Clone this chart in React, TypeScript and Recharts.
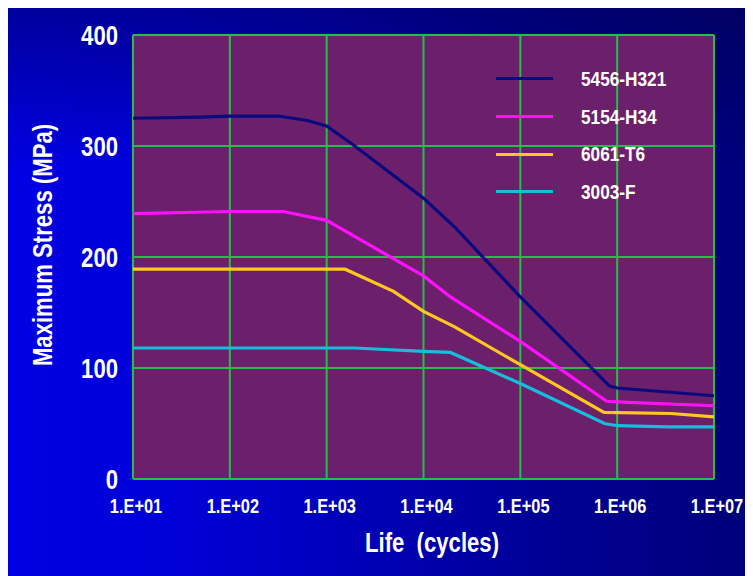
import { LineChart, Line, XAxis, YAxis, CartesianGrid, Label } from "recharts";

// fatigue (S-N) curves
const alloys = ["5456-H321", "5154-H34", "6061-T6", "3003-F"];
const colors = ["#0a0a80", "#ff10ff", "#ffc81e", "#14bedc"];

const cycles5456 = [10, 50, 100, 316, 630, 1000, 1950, 10000, 21000, 100000, 830000, 1000000, 10000000];
const stress5456 = [325, 326, 327, 327, 323, 318, 300, 253, 227, 164, 84, 82, 75];

const cycles5154 = [10, 100, 355, 1000, 10000, 19000, 100000, 780000, 1300000, 10000000];
const stress5154 = [239, 241, 241, 233, 183, 164, 124, 70, 69, 66];

const cycles6061 = [10, 1550, 4900, 10000, 21000, 100000, 730000, 3600000, 10000000];
const stress6061 = [189, 189, 169, 151, 137, 103, 60, 59, 56];

const cycles3003 = [10, 1950, 10000, 19000, 100000, 740000, 1000000, 3400000, 10000000];
const stress3003 = [118, 118, 115, 114, 86, 50, 48, 47, 47];

const xTicks = [10, 100, 1000, 10000, 100000, 1000000, 10000000];
const yTicks = [0, 100, 200, 300, 400];

const toPoints = (xs: number[], ys: number[]) => xs.map((x, i) => ({ x, y: ys[i] }));

const series = [
  toPoints(cycles5456, stress5456),
  toPoints(cycles5154, stress5154),
  toPoints(cycles6061, stress6061),
  toPoints(cycles3003, stress3003),
];

const font = "'Liberation Sans', Arial, sans-serif";
const NARROW = 0.82; // the original uses a narrow bold face

const fmtCycles = (v: number) => {
  const e = Math.round(Math.log10(v));
  return "1.E+" + (e < 10 ? "0" + e : String(e));
};

// squeeze text horizontally around its anchor point
const squeeze = (x: number, y: number) => `translate(${x},${y}) scale(${NARROW},1) translate(${-x},${-y})`;

const XTick = ({ x, y, payload }: any) => (
  <text
    x={x + 3}
    y={y}
    dy="0.72em"
    textAnchor="middle"
    fill="#fff"
    fontSize={20}
    fontWeight="bold"
    fontFamily={font}
    transform={squeeze(x + 3, y)}
  >
    {fmtCycles(payload.value)}
  </text>
);

const YTick = ({ x, y, payload }: any) => (
  <text
    x={x}
    y={y}
    dy="0.36em"
    textAnchor="end"
    fill="#fff"
    fontSize={27}
    fontWeight="bold"
    fontFamily={font}
    transform={squeeze(x, y)}
  >
    {payload.value}
  </text>
);

export default function App() {
  return (
    <div
      style={{
        position: "relative",
        marginTop: -4,
        width: 745,
        height: 572,
        background:
          "linear-gradient(to bottom, rgba(0,0,70,0.45) 0%, rgba(0,0,70,0) 28%), " +
          "linear-gradient(to right, #0000e2 0%, #0000d8 22%, #0000b4 50%, #000092 75%, #00007a 100%)",
      }}
    >
      <LineChart width={745} height={572} margin={{ top: 31, right: 39, bottom: 40, left: 0 }}>
        <CartesianGrid stroke="#22c046" strokeWidth={2} fill="#6c1f6a" fillOpacity={1} />
        <XAxis
          type="number"
          dataKey="x"
          scale="log"
          domain={[10, 10000000]}
          ticks={xTicks}
          allowDataOverflow
          axisLine={false}
          tickLine={false}
          tickSize={0}
          tickMargin={20}
          height={57}
          tick={<XTick />}
        >
          <Label
            content={({ viewBox }: any) => (
              <text
                x={424}
                y={viewBox.y + 73}
                textAnchor="middle"
                fill="#fff"
                fontSize={27}
                fontWeight="bold"
                fontFamily={font}
                transform={squeeze(424, viewBox.y + 73)}
              >
                Life&#160;&#160;(cycles)
              </text>
            )}
          />
        </XAxis>
        <YAxis
          type="number"
          domain={[0, 400]}
          ticks={yTicks}
          width={125}
          axisLine={false}
          tickLine={false}
          tickSize={0}
          tickMargin={15}
          tick={<YTick />}
        >
          <Label
            content={() => (
              <text
                x={35}
                y={241}
                transform="rotate(-90, 35, 241) translate(35,241) scale(0.82,1) translate(-35,-241)"
                textAnchor="middle"
                dominantBaseline="central"
                fill="#fff"
                fontSize={27}
                fontWeight="bold"
                fontFamily={font}
              >
                Maximum Stress (MPa)
              </text>
            )}
          />
        </YAxis>
        {series.map((pts, i) => (
          <Line
            key={alloys[i]}
            name={alloys[i]}
            data={pts}
            dataKey="y"
            type="linear"
            stroke={colors[i]}
            strokeWidth={3.2}
            dot={false}
            isAnimationActive={false}
          />
        ))}
      </LineChart>
      <div
        style={{
          position: "absolute",
          left: 488,
          top: 56,
          fontFamily: font,
          fontWeight: "bold",
          fontSize: 21,
          color: "#fff",
        }}
      >
        {alloys.map((name, i) => (
          <div key={name} style={{ display: "flex", alignItems: "center", height: 37.7 }}>
            <div style={{ width: 57, height: 3, background: colors[i], marginRight: 28 }} />
            <span style={{ display: "inline-block", transform: `scaleX(${NARROW})`, transformOrigin: "left center" }}>
              {name}
            </span>
          </div>
        ))}
      </div>
    </div>
  );
}
